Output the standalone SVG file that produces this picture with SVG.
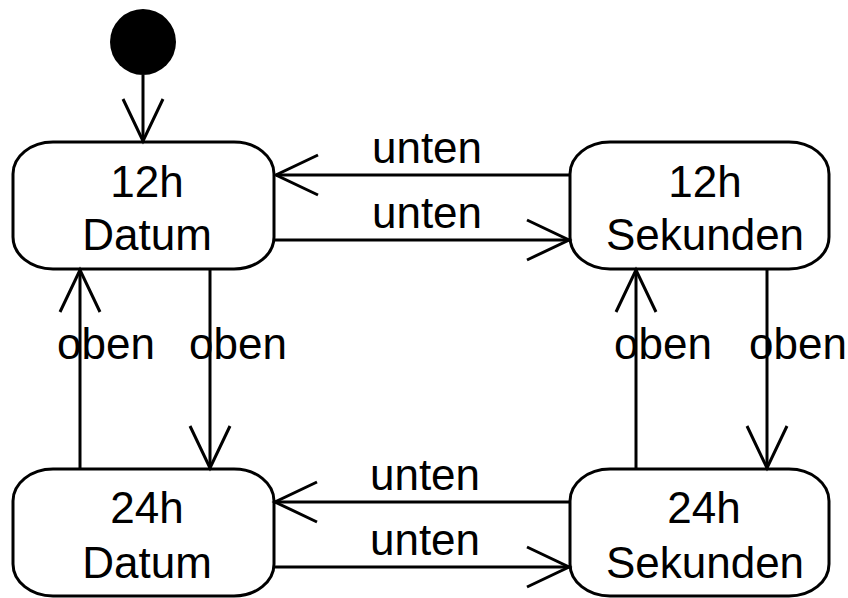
<svg xmlns="http://www.w3.org/2000/svg" width="848" height="598" viewBox="0 0 848 598">
<style>
.node rect{fill:#fff;stroke:#000;stroke-width:3}
text{font-family:"Liberation Sans",Arial,sans-serif;font-size:44px;fill:#000;text-anchor:middle}
.edge{stroke:#000;stroke-width:3;fill:none;marker-end:url(#open)}
</style>
<defs>
<marker id="open" markerUnits="userSpaceOnUse" markerWidth="50" markerHeight="50" viewBox="-45 -25 50 50" refX="0" refY="0" orient="auto">
<path d="M-42,-20 L0,0 L-42,20" fill="none" stroke="#000" stroke-width="3"/>
</marker>
</defs>
<g id="start"><circle cx="143" cy="42" r="33" fill="#000"/></g>
<g id="n12d" class="node"><rect x="13" y="142" width="261" height="127" rx="40" ry="32"/><text x="147" y="197">12h</text><text x="147" y="250">Datum</text></g>
<g id="n12s" class="node"><rect x="570" y="142" width="259" height="127" rx="40" ry="32"/><text x="705" y="197">12h</text><text x="705" y="250">Sekunden</text></g>
<g id="n24d" class="node"><rect x="13" y="469" width="261" height="127" rx="40" ry="32"/><text x="147" y="523">24h</text><text x="147" y="578">Datum</text></g>
<g id="n24s" class="node"><rect x="570" y="469" width="259" height="127" rx="40" ry="32"/><text x="704" y="523">24h</text><text x="705" y="578">Sekunden</text></g>
<g id="connectors">
<path class="edge" d="M143,75 L143,141"/>
<path class="edge" d="M570,175 L276,175"/>
<path class="edge" d="M275,240 L569,240"/>
<path class="edge" d="M570,502 L275,502"/>
<path class="edge" d="M275,567 L569,567"/>
<path class="edge" d="M80,469 L80,270"/>
<path class="edge" d="M210,269 L210,468"/>
<path class="edge" d="M636,469 L636,270"/>
<path class="edge" d="M767,269 L767,468"/>
<text x="427" y="163">unten</text>
<text x="427" y="228">unten</text>
<text x="425" y="490">unten</text>
<text x="425" y="555">unten</text>
<text x="106" y="359">oben</text>
<text x="238" y="359">oben</text>
<text x="663" y="359">oben</text>
<text x="798" y="359">oben</text>
</g>
</svg>
